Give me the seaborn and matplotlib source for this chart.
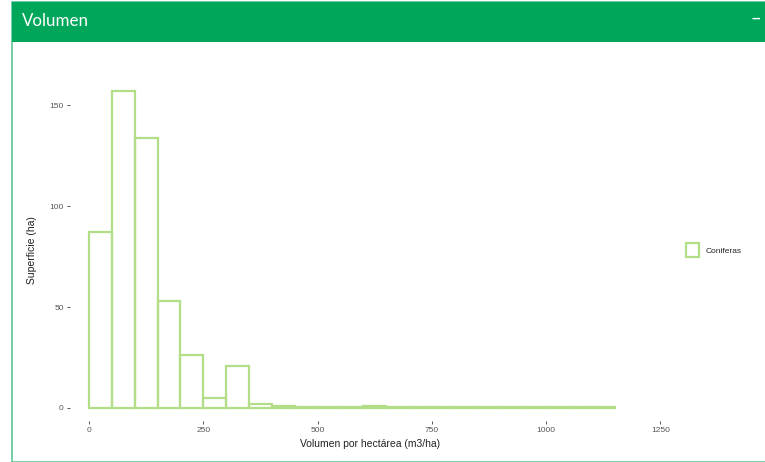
import numpy as np
import pandas as pd
import matplotlib
matplotlib.use("Agg")
import matplotlib.pyplot as plt
from matplotlib.patches import Rectangle
import seaborn as sns

# Histogram data (bin width 50 m3/ha)
BIN_EDGES = list(range(0, 1200, 50))
SUPERFICIE = [87, 157, 134, 53, 26, 5, 21, 2,
              0.8, 0.4, 0.4, 0.3, 0.7, 0.3, 0.2, 0.2,
              0.2, 0.2, 0.2, 0.2, 0.2, 0.2, 0.2]
SPECIES = "Coniferas"
X_TICKS = [0, 250, 500, 750, 1000, 1250]
Y_TICKS = [0, 50, 100, 150]

HEADER_GREEN = "#00a65a"
BAR_GREEN = "#b2de88"

sns.set_style("white")
plt.rcParams["font.family"] = ["Liberation Sans", "DejaVu Sans"]

mids = [e + 25 for e in BIN_EDGES[:-1]]
df = pd.DataFrame({"vol": mids, "sup": SUPERFICIE, "tipo": SPECIES})

fig = plt.figure(figsize=(7.65, 4.62), dpi=100)

# panel frame + header
fig.patches.append(Rectangle((12 / 765, 0), 1, 1 - 2 / 462, transform=fig.transFigure,
                             facecolor="white", edgecolor="#5cc494", linewidth=1.2, zorder=-2))
fig.patches.append(Rectangle((12 / 765, 1 - 42 / 462), 1, 40 / 462, transform=fig.transFigure,
                             facecolor=HEADER_GREEN, edgecolor="none", zorder=-1))
fig.text(22 / 765, 1 - 21 / 462, "Volumen", color="white", fontsize=12.2,
         va="center", ha="left", family=["Lato", "DejaVu Sans"])
fig.text(756 / 765, 1 - 19 / 462, "\u2013", color="white", fontsize=11,
         va="center", ha="center", fontweight="bold")

ax = fig.add_axes([70 / 765, 41 / 462, (671 - 70) / 765, (383 - 41) / 462])
ax.set_zorder(3)
ax.patch.set_alpha(0)
sns.histplot(data=df, x="vol", weights="sup", hue="tipo", bins=BIN_EDGES,
             fill=False, element="bars", palette=[BAR_GREEN], linewidth=1.6, ax=ax)

ax.set_xlim(-41.5, 1273)
ax.set_ylim(-6.5, 163)
ax.set_xticks(X_TICKS)
ax.set_yticks(Y_TICKS)
for s in ax.spines.values():
    s.set_visible(False)
ax.tick_params(axis="both", labelsize=6, colors="#555555", length=2.5, width=0.7,
               left=True, bottom=True, pad=2)
ax.set_xlabel("Volumen por hectárea (m3/ha)", fontsize=7.5, color="#222222", labelpad=3.5)
ax.set_ylabel("Superficie (ha)", fontsize=7.5, color="#222222", labelpad=9)

sns.move_legend(ax, loc="center left", bbox_to_anchor=(1.012, 0.5), title=None,
                frameon=False, fontsize=6, handlelength=1.6, handleheight=2.3,
                handletextpad=0.8)

fig.savefig("out.png", dpi=100)
